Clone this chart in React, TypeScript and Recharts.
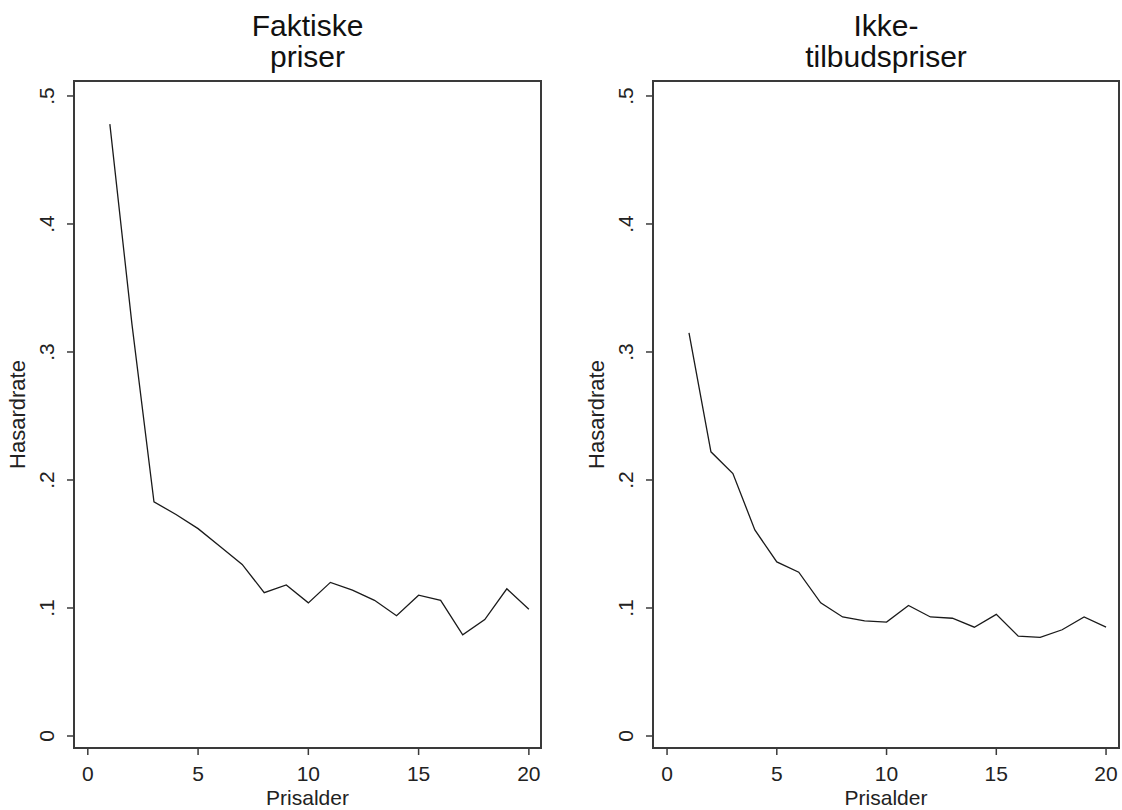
import React from 'react';
import { LineChart, Line, XAxis, YAxis, Label, ReferenceArea } from 'recharts';

// prisalder (weeks), 1..20
const ages = [1, 2, 3, 4, 5, 6, 7, 8, 9, 10, 11, 12, 13, 14, 15, 16, 17, 18, 19, 20];

const faktiske = [0.478, 0.322, 0.183, 0.173, 0.162, 0.148, 0.134, 0.112, 0.118, 0.104,
    0.120, 0.114, 0.106, 0.094, 0.110, 0.106, 0.079, 0.091, 0.115, 0.099];

const ikkeTilbud = [0.315, 0.222, 0.205, 0.161, 0.136, 0.128, 0.104, 0.093, 0.090, 0.089,
    0.102, 0.093, 0.092, 0.085, 0.095, 0.078, 0.077, 0.083, 0.093, 0.085];

const xTicks = [0, 5, 10, 15, 20];
const yTicks = [0, 0.1, 0.2, 0.3, 0.4, 0.5];

const FONT = '"Liberation Sans", Arial, Helvetica, sans-serif';
const INK = '#222';
const AXIS = '#3a3a3a';

const fmtY = (v: number) => (v === 0 ? '0' : '.' + Math.round(v * 10));

const W = 561;
const H = 810;
const PLOT_TOP = 81;
const PLOT_BOTTOM = 748;
const Y_DOMAIN: [number, number] = [-0.009375, 0.5117];

interface PanelProps {
    title: string[];
    values: number[];
    left: number;      // page x of the chart
    yAxisW: number;    // plot left inside the chart
    rightM: number;
    xDomain: [number, number];
}

const Panel = ({ title, values, left, yAxisW, rightM, xDomain }: PanelProps) => {
    const data = ages.map((a, i) => ({ age: a, rate: values[i] }));
    const plotW = W - yAxisW - rightM;
    const cx = yAxisW + plotW / 2;

    const yTick = (p: any) => {
        const bx = p.x - 13;
        return (
            <text x={bx} y={p.y} transform={`rotate(-90, ${bx}, ${p.y})`} textAnchor="middle"
                fontSize={21} fontFamily={FONT} fill={INK}>
                {fmtY(p.payload.value)}
            </text>
        );
    };
    const xTick = (p: any) => (
        <text x={p.x} y={781} textAnchor="middle" fontSize={21} fontFamily={FONT} fill={INK}>
            {p.payload.value}
        </text>
    );

    return (
        <div style={{ position: 'absolute', left, top: 0, width: W, height: H }}>
            <div style={{
                position: 'absolute', left: yAxisW, top: 10, width: plotW, textAlign: 'center',
                fontFamily: FONT, fontSize: 30, lineHeight: '31px', color: '#111',
            }}>
                {title.map(t => <div key={t}>{t}</div>)}
            </div>
            <LineChart width={W} height={H} data={data}
                margin={{ top: PLOT_TOP, right: rightM, bottom: 0, left: 0 }}>
                <XAxis dataKey="age" type="number" domain={xDomain} ticks={xTicks} allowDataOverflow
                    height={H - PLOT_BOTTOM} tickSize={7} tickMargin={0} tick={xTick}
                    axisLine={{ stroke: AXIS, strokeWidth: 2 }} tickLine={{ stroke: AXIS, strokeWidth: 1.5 }}>
                    <Label content={() => (
                        <text x={cx} y={805} textAnchor="middle" fontSize={21} fontFamily={FONT} fill={INK}>
                            Prisalder
                        </text>
                    )} />
                </XAxis>
                <YAxis type="number" domain={Y_DOMAIN} ticks={yTicks} allowDataOverflow
                    width={yAxisW} tickSize={7} tickMargin={0} tick={yTick}
                    axisLine={{ stroke: AXIS, strokeWidth: 2 }} tickLine={{ stroke: AXIS, strokeWidth: 1.5 }}>
                    <Label content={() => {
                        const bx = yAxisW - 49;
                        const by = (PLOT_TOP + PLOT_BOTTOM) / 2;
                        return (
                            <text x={bx} y={by} transform={`rotate(-90, ${bx}, ${by})`} textAnchor="middle"
                                fontSize={22} fontFamily={FONT} fill={INK}>
                                Hasardrate
                            </text>
                        );
                    }} />
                </YAxis>
                {/* plot region frame */}
                <ReferenceArea x1={xDomain[0]} x2={xDomain[1]} y1={Y_DOMAIN[0]} y2={Y_DOMAIN[1]}
                    fill="none" fillOpacity={0} stroke={AXIS} strokeWidth={2} ifOverflow="visible" />
                <Line type="linear" dataKey="rate" stroke="#1a1a1a" strokeWidth={1.3} dot={false}
                    activeDot={false} isAnimationActive={false} />
            </LineChart>
        </div>
    );
};

export default function App() {
    return (
        <div style={{ position: 'absolute', left: 0, top: 0, width: 1122, height: 810, background: '#fff' }}>
            <Panel title={['Faktiske', 'priser']} values={faktiske} left={0} yAxisW={74} rightM={20}
                xDomain={[-0.626, 20.55]} />
            <Panel title={['Ikke-', 'tilbudspriser']} values={ikkeTilbud} left={561} yAxisW={92} rightM={3}
                xDomain={[-0.64, 20.59]} />
        </div>
    );
}
